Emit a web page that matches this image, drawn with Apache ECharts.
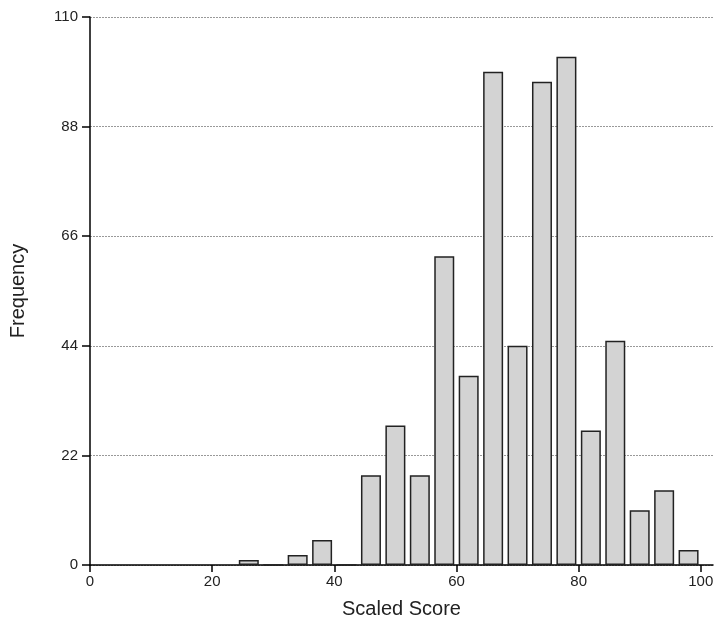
<!DOCTYPE html>
<html>
<head>
<meta charset="utf-8">
<script src="https://cdn.jsdelivr.net/npm/echarts@6/dist/echarts.min.js"></script>
<style>
html,body{margin:0;padding:0;background:#fff;}
#chart{width:717px;height:627px;}
</style>
</head>
<body>
<div id="chart"></div>
<script>
// Bin centres (Scaled Score) and frequencies
var scores = [26, 30, 34, 38, 42, 46, 50, 54, 58, 62, 66, 70, 74, 78, 82, 86, 90, 94, 98];
var freqs  = [1, 0, 2, 5, 0, 18, 28, 18, 62, 38, 99, 44, 97, 102, 27, 45, 11, 15, 3];
var xTicks = [0, 20, 40, 60, 80, 100];
var yTicks = [0, 22, 44, 66, 88, 110];

var data = scores.map(function (s, i) { return [s, freqs[i]]; });

var chart = echarts.init(document.getElementById('chart'), null, {renderer: 'canvas'});
var font = 'Liberation Sans, Arial, sans-serif';
chart.setOption({
  animation: false,
  backgroundColor: '#fff',
  grid: {left: 87, right: 4, top: 17, bottom: 62, containLabel: false},
  xAxis: {
    type: 'value',
    min: 0,
    max: 102,
    interval: 20,
    name: 'Scaled Score',
    nameLocation: 'middle',
    nameGap: 34,
    nameTextStyle: {fontFamily: font, fontSize: 20, color: '#222'},
    axisLine: {show: true, lineStyle: {color: '#000', width: 1.5}},
    axisTick: {show: true, length: 7, customValues: xTicks, lineStyle: {color: '#000', width: 1.5}},
    axisLabel: {customValues: xTicks, margin: 9, fontFamily: font, fontSize: 15, color: '#222'},
    splitLine: {show: false}
  },
  yAxis: {
    type: 'value',
    min: 0,
    max: 110,
    interval: 22,
    name: 'Frequency',
    nameLocation: 'middle',
    nameGap: 62,
    nameTextStyle: {fontFamily: font, fontSize: 20, color: '#222'},
    axisLine: {show: true, lineStyle: {color: '#000', width: 1.5}},
    axisTick: {show: true, length: 8, lineStyle: {color: '#000', width: 1.5}},
    axisLabel: {margin: 12, fontFamily: font, fontSize: 15, color: '#222', customValues: yTicks},
    splitLine: {show: true, lineStyle: {color: '#999', width: 1, type: [2, 1]}}
  },
  series: [{
    type: 'bar',
    data: data,
    barWidth: 20,
    itemStyle: {color: '#d3d3d3', borderColor: '#222', borderWidth: 1.5}
  }]
});
</script>
</body>
</html>
